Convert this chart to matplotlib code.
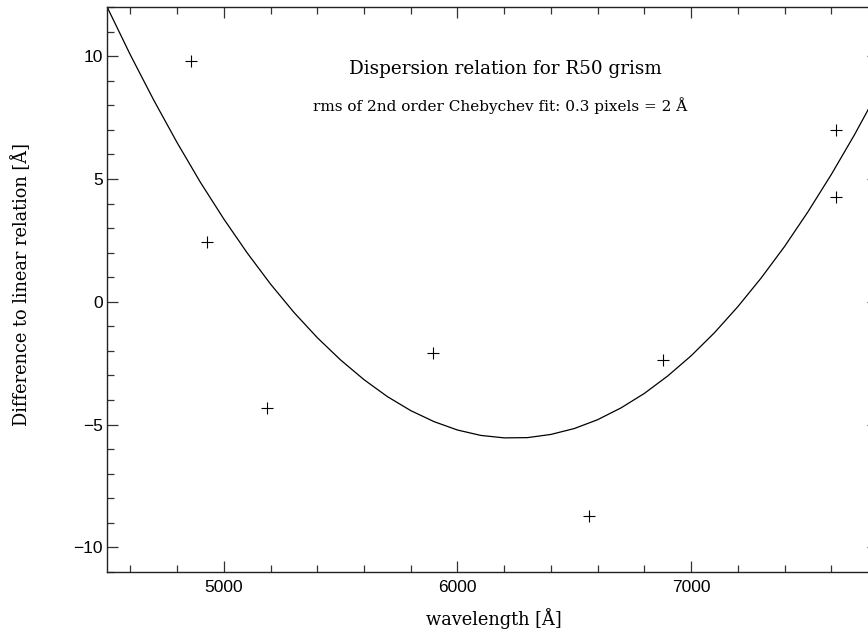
import matplotlib
matplotlib.use("Agg")
import matplotlib.pyplot as plt
from matplotlib.ticker import MultipleLocator

# measured lines (wavelength, residual from linear relation)
line_wave = [4859, 4930, 5183, 5897, 6563, 6881, 7620, 7620]
line_diff = [9.80, 2.43, -4.32, -2.07, -8.71, -2.39, 7.01, 4.26]

# 2nd order Chebychev fit, every 100 A
fit_wave = [4500, 4600, 4700, 4800, 4900, 5000, 5100, 5200, 5300, 5400,
            5500, 5600, 5700, 5800, 5900, 6000, 6100, 6200, 6300, 6400,
            6500, 6600, 6700, 6800, 6900, 7000, 7100, 7200, 7300, 7400,
            7500, 7600, 7700, 7800]
fit_diff = [12.01, 10.05, 8.21, 6.48, 4.86, 3.37, 1.99, 0.72, -0.43, -1.46,
            -2.37, -3.17, -3.86, -4.43, -4.88, -5.22, -5.44, -5.54, -5.53, -5.40,
            -5.16, -4.80, -4.32, -3.73, -3.02, -2.20, -1.26, -0.20, 0.97, 2.25,
            3.66, 5.18, 6.81, 8.56]

title = "Dispersion relation for R50 grism"
subtitle = "rms of 2nd order Chebychev fit: 0.3 pixels = 2 \u00c5"
xlabel = "wavelength [\u00c5]"
ylabel = "Difference to linear relation [\u00c5]"

W, H = 868, 632
fig = plt.figure(figsize=(W / 100, H / 100), dpi=100)
ax = fig.add_axes([107 / W, 1 - 572 / H, 771 / W, 565 / H])

ax.plot(fit_wave, fit_diff, color="black", lw=0.9)
ax.plot(line_wave, line_diff, ls="none", marker="+", ms=8.5, mew=0.8, color="black")

ax.set_xlim(4500, 7800)
ax.set_ylim(-11, 12)
ax.xaxis.set_major_locator(MultipleLocator(1000))
ax.xaxis.set_minor_locator(MultipleLocator(200))
ax.yaxis.set_major_locator(MultipleLocator(5))
ax.yaxis.set_minor_locator(MultipleLocator(1))
ax.tick_params(which="both", direction="in", top=True, right=True, color="#333333", width=0.9)
ax.tick_params(which="major", length=7.8, labelsize=12.5, pad=6)
ax.tick_params(which="minor", length=4.8)
ax.tick_params(axis="y", which="major", pad=3)
for lab in ax.get_xticklabels() + ax.get_yticklabels():
    lab.set_family("Liberation Sans")
for sp in ax.spines.values():
    sp.set_linewidth(1.0)
    sp.set_color("#222222")

serif = "DejaVu Serif"
fig.text(505 / W, 1 - 69.3 / H, title, ha="center", va="center", family=serif, fontsize=13.2)
fig.text(500 / W, 1 - 105.7 / H, subtitle, ha="center", va="center", family=serif, fontsize=11)
fig.text(494 / W, 1 - 619 / H, xlabel, ha="center", va="center", family=serif, fontsize=12.8)
fig.text(21 / W, 1 - 285 / H, ylabel, ha="center", va="center", rotation=90, family=serif, fontsize=12.8)

fig.savefig("out.png", dpi=100)
